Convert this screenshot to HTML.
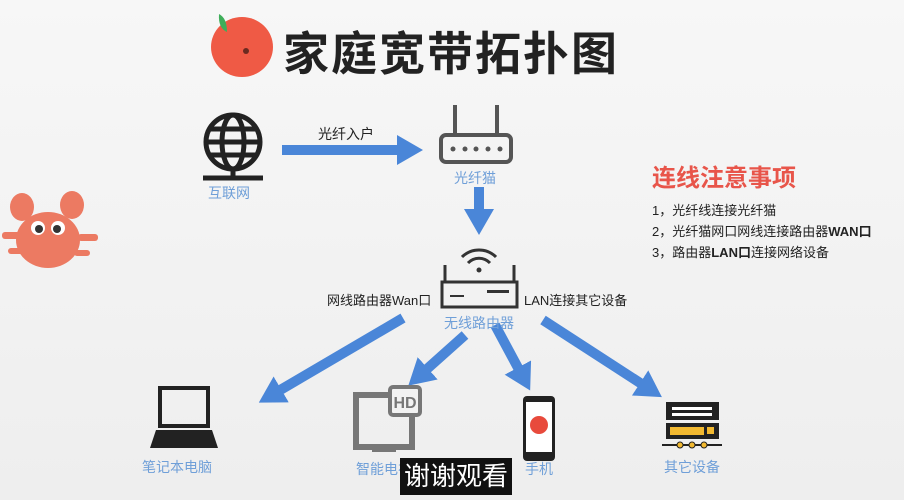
<!DOCTYPE html>
<html><head><meta charset="utf-8"><style>
body{margin:0;width:904px;height:500px;overflow:hidden;background:linear-gradient(180deg,#f7f7f7,#eeeeee);font-family:"Liberation Sans","Noto Sans CJK SC",sans-serif;position:relative}
.t{position:absolute;white-space:nowrap}
.b{color:#6f9fd8;font-size:14px}
</style></head><body>
<svg width="904" height="500" style="position:absolute;left:0;top:0">
<defs><marker id="a" markerWidth="2.6" markerHeight="3" refX="1.3" refY="1.5" orient="auto"><path d="M0,0L2.6,1.5L0,3z" fill="#4a86d8"/></marker></defs>
<ellipse cx="242" cy="47" rx="31" ry="30" fill="#ef5a45"/>
<path d="M219,14 q8,4 8,18 q-9,-4 -8,-18z" fill="#3fae5a"/>
<circle cx="246" cy="51" r="3" fill="#6b2a20"/>
<g fill="#ec7a62">
<ellipse cx="48" cy="240" rx="32" ry="28"/>
<ellipse cx="22" cy="207" rx="12" ry="14"/><ellipse cx="72" cy="205" rx="12" ry="14"/>
<rect x="2" y="232" width="18" height="7" rx="3"/><rect x="78" y="234" width="20" height="7" rx="3"/>
<rect x="8" y="248" width="16" height="6" rx="3"/><rect x="74" y="250" width="16" height="6" rx="3"/>
</g>
<circle cx="38" cy="228" r="7" fill="#fff"/><circle cx="58" cy="228" r="7" fill="#fff"/>
<circle cx="39" cy="229" r="4" fill="#333"/><circle cx="57" cy="229" r="4" fill="#333"/>
<g stroke="#222" stroke-width="5" fill="none">
<circle cx="233" cy="142" r="27"/><ellipse cx="233" cy="142" rx="11" ry="27"/>
<line x1="206" y1="142" x2="260" y2="142"/><line x1="210" y1="129" x2="256" y2="129"/><line x1="210" y1="155" x2="256" y2="155"/>
<line x1="233" y1="169" x2="233" y2="178"/><line x1="203" y1="178" x2="263" y2="178"/>
</g>
<g stroke="#4a86d8" stroke-width="10" marker-end="url(#a)" fill="none">
<line x1="282" y1="150" x2="410" y2="150"/>
<line x1="479" y1="187" x2="479" y2="222"/>
<line x1="403" y1="318" x2="270" y2="396"/>
<line x1="465" y1="335" x2="418" y2="377"/>
<line x1="495" y1="325" x2="524" y2="379"/>
<line x1="543" y1="320" x2="651" y2="390"/>
</g>
<g stroke="#555" stroke-width="4" fill="none">
<line x1="455" y1="105" x2="455" y2="135"/><line x1="497" y1="105" x2="497" y2="135"/>
<rect x="441" y="135" width="70" height="27" rx="5"/>
</g>
<g fill="#555"><circle cx="453" cy="149" r="2.5"/><circle cx="465" cy="149" r="2.5"/><circle cx="476" cy="149" r="2.5"/><circle cx="488" cy="149" r="2.5"/><circle cx="500" cy="149" r="2.5"/></g>
<g stroke="#333" stroke-width="3" fill="none">
<path d="M462,257 a24,24 0 0 1 34,0"/><path d="M468,263 a15,15 0 0 1 22,0"/>
<line x1="445" y1="265" x2="445" y2="282"/><line x1="514" y1="265" x2="514" y2="282"/>
<rect x="442" y="282" width="75" height="25"/>
</g>
<circle cx="479" cy="270" r="2.5" fill="#333"/>
<g fill="#333"><rect x="450" y="295" width="14" height="2"/><rect x="487" y="290" width="22" height="3"/></g>
<g stroke="#222" stroke-width="4" fill="none"><rect x="160" y="388" width="48" height="38"/></g>
<path d="M156,430 h56 l6,18 h-68z" fill="#222"/>
<rect x="356" y="395" width="56" height="52" fill="none" stroke="#777" stroke-width="6"/>
<rect x="372" y="447" width="24" height="5" fill="#777"/>
<rect x="390" y="387" width="30" height="28" rx="3" fill="#f2f2f2" stroke="#777" stroke-width="4"/>
<text x="405" y="408" font-family="Liberation Sans" font-weight="bold" font-size="16" fill="#777" text-anchor="middle">HD</text>
<rect x="523" y="396" width="32" height="65" rx="4" fill="#222"/>
<rect x="526" y="402" width="26" height="50" fill="#fff"/>
<circle cx="539" cy="425" r="9" fill="#e84a3c"/>
<rect x="666" y="402" width="53" height="18" fill="#222"/>
<rect x="672" y="407" width="40" height="3" fill="#fff"/><rect x="672" y="413" width="40" height="3" fill="#fff"/>
<rect x="666" y="423" width="53" height="16" fill="#222"/>
<rect x="670" y="427" width="34" height="8" fill="#f2b930"/><rect x="707" y="427" width="7" height="7" fill="#f2b930"/>
<line x1="662" y1="445" x2="722" y2="445" stroke="#222" stroke-width="2"/>
<g fill="#f2b930" stroke="#222"><circle cx="680" cy="445" r="3"/><circle cx="692" cy="445" r="3"/><circle cx="704" cy="445" r="3"/></g>
</svg>
<div class="t" style="left:283px;top:18px;font-size:46px;font-weight:bold;color:#222;letter-spacing:2px">家庭宽带拓扑图</div>
<div class="t" style="left:318px;top:124px;font-size:14px;color:#222">光纤入户</div>
<div class="t b" style="left:208px;top:183px">互联网</div>
<div class="t b" style="left:454px;top:168px">光纤猫</div>
<div class="t" style="left:327px;top:290px;font-size:13px;color:#222">网线路由器Wan口</div>
<div class="t" style="left:524px;top:290px;font-size:13px;color:#222">LAN连接其它设备</div>
<div class="t b" style="left:444px;top:313px">无线路由器</div>
<div class="t b" style="left:142px;top:457px">笔记本电脑</div>
<div class="t b" style="left:356px;top:459px">智能电视</div>
<div class="t b" style="left:525px;top:459px">手机</div>
<div class="t b" style="left:664px;top:457px">其它设备</div>
<div class="t" style="left:652px;top:158px;font-size:24px;font-weight:bold;color:#e8554a">连线注意事项</div>
<div class="t" style="left:652px;top:200px;font-size:13px;color:#222">1，光纤线连接光纤猫</div>
<div class="t" style="left:652px;top:221px;font-size:13px;color:#222">2，光纤猫网口网线连接路由器<b>WAN口</b></div>
<div class="t" style="left:652px;top:242px;font-size:13px;color:#222">3，路由器<b>LAN口</b>连接网络设备</div>
<div class="t" style="left:400px;top:458px;width:112px;height:37px;background:#111;color:#fff;font-size:26px;line-height:37px;text-align:center">谢谢观看</div>
</body></html>
